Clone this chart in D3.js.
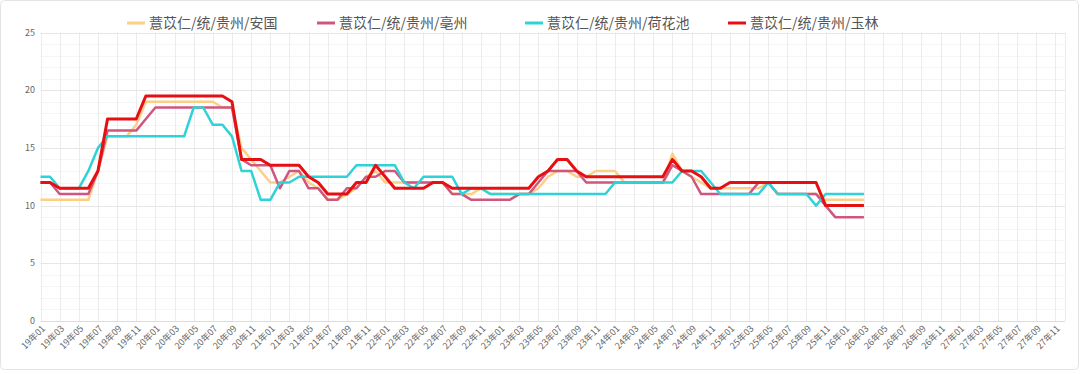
<!DOCTYPE html>
<html>
<head>
<meta charset="utf-8">
<script src="https://cdn.jsdelivr.net/npm/d3@7"></script>
<style>
  html, body { margin: 0; padding: 0; background: #fff; }
  svg text { font-family: "Noto Sans CJK SC", "Noto Sans", sans-serif; }
</style>
</head>
<body>
<svg id="chart" width="1080" height="374"></svg>
<script>
// 数据
const years = ['19', '20', '21', '22', '23', '24', '25', '26', '27'];
const monthNums = ['01', '02', '03', '04', '05', '06', '07', '08', '09', '10', '11', '12'];
const seriesNames = ['薏苡仁/统/贵州/安国', '薏苡仁/统/贵州/亳州', '薏苡仁/统/贵州/荷花池', '薏苡仁/统/贵州/玉林'];
const yTicks = [0, 5, 10, 15, 20, 25];

const anguo = [
  10.5, 10.5, 10.5, 10.5, 10.5, 10.5, 13, 16, 16, 16, 17, 19,
  19, 19, 19, 19, 19, 19, 19, 18.5, 18.5, 15, 14, 13,
  12, 12, 12.5, 13, 12, 11.5, 10.5, 10.5, 11, 11.5, 12.5, 13,
  12, 12, 12, 12, 12, 12, 12, 11, 11, 11, 11.5, 11,
  11, 11, 11, 11, 11.5, 12.5, 13, 13, 12.5, 12.5, 13, 13,
  13, 12, 12, 12, 12, 12, 14.5, 13, 12.5, 12, 11.5, 11.5,
  11.5, 11.5, 11.5, 11.5, 12, 11, 11, 11, 11, 11, 10.5, 10.5,
  10.5, 10.5, 10.5
];
const bozhou = [
  12, 12, 11, 11, 11, 11, 13, 16.5, 16.5, 16.5, 16.5, 17.5,
  18.5, 18.5, 18.5, 18.5, 18.5, 18.5, 18.5, 18.5, 18.5, 14, 13.5, 13.5,
  13.5, 11.5, 13, 13, 11.5, 11.5, 10.5, 10.5, 11.5, 11.5, 12.5, 12.5,
  13, 13, 12, 12, 12, 12, 12, 11, 11, 10.5, 10.5, 10.5,
  10.5, 10.5, 11, 11, 12, 13, 13, 13, 13, 12, 12, 12,
  12, 12, 12, 12, 12, 12, 13.5, 13, 12.5, 11, 11, 11,
  11, 11, 11, 12, 12, 11, 11, 11, 11, 11, 10, 9,
  9, 9, 9
];
const hehuachi = [
  12.5, 12.5, 11.5, 11.5, 11.5, 13, 15, 16, 16, 16, 16, 16,
  16, 16, 16, 16, 18.5, 18.5, 17, 17, 16, 13, 13, 10.5,
  10.5, 12, 12, 12.5, 12.5, 12.5, 12.5, 12.5, 12.5, 13.5, 13.5, 13.5,
  13.5, 13.5, 12, 11.5, 12.5, 12.5, 12.5, 12.5, 11, 11.5, 11.5, 11,
  11, 11, 11, 11, 11, 11, 11, 11, 11, 11, 11, 11,
  12, 12, 12, 12, 12, 12, 12, 13, 13, 13, 12, 11,
  11, 11, 11, 11, 12, 11, 11, 11, 11, 10, 11, 11,
  11, 11, 11
];
const yulin = [
  12, 12, 11.5, 11.5, 11.5, 11.5, 13, 17.5, 17.5, 17.5, 17.5, 19.5,
  19.5, 19.5, 19.5, 19.5, 19.5, 19.5, 19.5, 19.5, 19, 14, 14, 14,
  13.5, 13.5, 13.5, 13.5, 12.5, 12, 11, 11, 11, 12, 12, 13.5,
  12.5, 11.5, 11.5, 11.5, 11.5, 12, 12, 11.5, 11.5, 11.5, 11.5, 11.5,
  11.5, 11.5, 11.5, 11.5, 12.5, 13, 14, 14, 13, 12.5, 12.5, 12.5,
  12.5, 12.5, 12.5, 12.5, 12.5, 12.5, 14, 13, 13, 12.5, 11.5, 11.5,
  12, 12, 12, 12, 12, 12, 12, 12, 12, 12, 10, 10,
  10, 10, 10
];

const seriesData = [anguo, bozhou, hehuachi, yulin];
const colors = ['#fdcf86', '#d1567f', '#2fd2d6', '#e60f12'];
const widths = [2.5, 2.5, 2.5, 3];

// 月份类目 19年01 ... 27年12
let months = [];
years.forEach(y => monthNums.forEach(m => months.push(y + '年' + m)));

const svg = d3.select('#chart');

// 外框
svg.append('rect')
  .attr('x', 0.5).attr('y', 0.5)
  .attr('width', 1078).attr('height', 369)
  .attr('rx', 4)
  .style('fill', '#fff')
  .style('stroke', '#e4e4e4');

const x = d3.scalePoint().domain(months).range([40.5, 1065]).padding(0);
const y = d3.scaleLinear().domain([0, 25]).range([321, 32.5]);

// 网格
let grid = svg.append('g').attr('class', 'grid');
grid.selectAll('.minor')
  .data(d3.range(0, 26, 1).filter(v => v % 5 !== 0))
  .enter().append('line')
  .attr('x1', x.range()[0]).attr('x2', x.range()[1])
  .attr('y1', d => Math.round(y(d)) + 0.5).attr('y2', d => Math.round(y(d)) + 0.5)
  .style('stroke', '#f5f5f5');

grid.selectAll('.vline')
  .data(months.filter((d, i) => i % 2 === 0).concat([months[months.length - 1]]))
  .enter().append('line')
  .attr('x1', d => Math.round(x(d)) + 0.5).attr('x2', d => Math.round(x(d)) + 0.5)
  .attr('y1', y(25)).attr('y2', y(0))
  .style('stroke', '#ececec');

grid.selectAll('.major')
  .data(yTicks)
  .enter().append('line')
  .attr('x1', x.range()[0]).attr('x2', x.range()[1])
  .attr('y1', d => Math.round(y(d)) + 0.5).attr('y2', d => Math.round(y(d)) + 0.5)
  .style('stroke', d => d === 0 ? '#dcdcdc' : '#e6e6e6');

// y 轴标签
svg.append('g')
  .selectAll('text')
  .data(yTicks)
  .enter().append('text')
  .attr('x', 35)
  .attr('y', d => y(d))
  .attr('dy', '0.35em')
  .attr('text-anchor', 'end')
  .style('font-size', '9px')
  .style('fill', '#666')
  .text(d => d);

// x 轴标签
svg.append('g')
  .selectAll('text')
  .data(months.filter((d, i) => i % 2 === 0))
  .enter().append('text')
  .attr('transform', d => 'translate(' + (x(d) + 3) + ',' + 327 + ') rotate(-45)')
  .attr('dy', '0.35em')
  .attr('text-anchor', 'end')
  .style('font-size', '9px')
  .style('fill', '#666')
  .text(d => d);

// 折线
const line = d3.line()
  .x((d, i) => x(months[i]))
  .y(d => y(d));

svg.append('g')
  .selectAll('path')
  .data(seriesData)
  .enter().append('path')
  .attr('d', d => line(d))
  .style('fill', 'none')
  .style('stroke', (d, i) => colors[i])
  .style('stroke-width', (d, i) => widths[i])
  .style('stroke-linejoin', 'round');

// 图例
const legendX = [127, 317, 525, 728];
let legends = svg.append('g')
  .selectAll('g')
  .data(seriesNames)
  .enter().append('g')
  .attr('transform', (d, i) => 'translate(' + legendX[i] + ',23)');

legends.append('line')
  .attr('x1', 0).attr('x2', 18)
  .attr('y1', 0).attr('y2', 0)
  .style('stroke', (d, i) => colors[i])
  .style('stroke-width', 3);

legends.append('text')
  .attr('x', 22)
  .attr('dy', '0.35em')
  .style('font-size', '14px')
  .style('fill', '#555')
  .text(d => d);
</script>
</body>
</html>
